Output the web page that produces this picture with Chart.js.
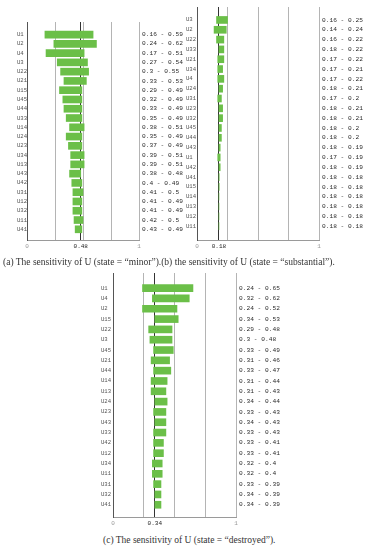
<!DOCTYPE html>
<html><head><meta charset="utf-8">
<script src="https://cdn.jsdelivr.net/npm/chart.js@4"></script>
<style>
html,body{margin:0;padding:0;background:#fff;width:368px;height:550px;overflow:hidden;}
canvas{position:absolute;}
.cap{position:absolute;font-family:"Liberation Serif","DejaVu Serif",serif;font-size:9.5px;line-height:11px;color:#333;white-space:nowrap;}
</style></head><body>
<canvas id="ca" width="184" height="252" style="left:0;top:0;width:184px;height:252px"></canvas>
<canvas id="cb" width="184" height="252" style="left:184px;top:0;width:184px;height:252px"></canvas>
<canvas id="cc" width="190" height="265" style="left:90px;top:265px;width:190px;height:265px"></canvas>
<div class="cap" style="left:3px;top:257px">(a) The sensitivity of U (state = “minor”).(b) the sensitivity of U (state = “substantial”).</div>
<div class="cap" style="left:103px;top:535px">(c) The sensitivity of U (state = “destroyed”).</div>
<script>
// (a) state = "minor"
const catsA = ['U1','U2','U4','U3','U22','U21','U15','U45','U44','U33','U14','U24','U23','U34','U13','U43','U42','U31','U12','U32','U11','U41'];
const lowA  = [0.16,0.24,0.17,0.27,0.3,0.33,0.29,0.32,0.33,0.35,0.38,0.35,0.37,0.39,0.39,0.38,0.4,0.41,0.41,0.41,0.42,0.43];
const highA = [0.59,0.62,0.51,0.54,0.55,0.53,0.49,0.49,0.49,0.49,0.51,0.49,0.49,0.51,0.51,0.48,0.49,0.5,0.49,0.49,0.5,0.49];
const refA = 0.48;

// (b) state = "substantial"
const catsB = ['U3','U2','U22','U33','U21','U34','U4','U24','U31','U23','U32','U45','U44','U43','U1','U42','U41','U15','U14','U13','U12','U11'];
const lowB  = [0.16,0.14,0.16,0.18,0.17,0.17,0.17,0.18,0.17,0.18,0.18,0.18,0.18,0.18,0.17,0.18,0.18,0.18,0.18,0.18,0.18,0.18];
const highB = [0.25,0.24,0.22,0.22,0.22,0.21,0.22,0.21,0.2,0.21,0.21,0.2,0.2,0.19,0.19,0.19,0.182,0.182,0.18,0.18,0.18,0.18];
const refB = 0.18;

// (c) state = "destroyed"
const catsC = ['U1','U4','U2','U15','U22','U3','U45','U21','U44','U14','U13','U24','U23','U43','U33','U42','U12','U34','U11','U31','U32','U41'];
const lowC  = [0.24,0.32,0.24,0.34,0.29,0.3,0.33,0.31,0.33,0.31,0.31,0.34,0.33,0.34,0.33,0.33,0.33,0.32,0.32,0.33,0.34,0.34];
const highC = [0.65,0.62,0.52,0.53,0.48,0.48,0.49,0.46,0.47,0.44,0.43,0.44,0.43,0.43,0.43,0.41,0.41,0.4,0.4,0.39,0.39,0.39];
const refC = 0.34;

const xTickBase = [0, 0.25, 0.5, 0.75, 1];

const fmt = v => String(Math.round(v * 100) / 100);

const valueLabels = {
  id: 'valueLabels',
  afterDraw(chart, args, opts) {
    const {ctx, chartArea, scales: {y}} = chart;
    ctx.save();
    ctx.font = '6.2px "Liberation Mono", "DejaVu Sans Mono", monospace';
    ctx.fillStyle = '#2a2a2a';
    ctx.textBaseline = 'middle';
    ctx.textAlign = 'left';
    opts.texts.forEach((t, i) => ctx.fillText(t, chartArea.right + 3, y.getPixelForValue(i)));
    ctx.restore();
  }
};

function build(id, cats, lo, hi, ref, g) {
  new Chart(document.getElementById(id), {
    type: 'bar',
    data: {
      labels: cats.map((_, i) => i),
      datasets: [{
        data: lo.map((v, i) => [v, hi[i]]),
        backgroundColor: '#6bbf48',
        borderWidth: 0,
        barThickness: 7
      }]
    },
    options: {
      indexAxis: 'y',
      responsive: false,
      animation: false,
      plugins: {
        legend: {display: false},
        tooltip: {enabled: false},
        valueLabels: {texts: lo.map((v, i) => fmt(v) + ' - ' + fmt(hi[i]))}
      },
      layout: {padding: {left: g.pl, right: g.pr, top: g.pt, bottom: g.pb}},
      scales: {
        x: {
          type: 'linear', min: 0, max: 1, z: 1,
          afterBuildTicks: s => { s.ticks = xTickBase.concat([ref]).sort((a, b) => a - b).map(v => ({value: v})); },
          afterFit: s => { s.height = 10; },
          ticks: {
            autoSkip: false, maxRotation: 0, minRotation: 0, padding: 3,
            font: {family: '"Liberation Mono", "DejaVu Sans Mono", monospace', size: 6},
            color: c => (c.tick && c.tick.value === ref) ? '#222' : '#999',
            callback: v => (v === 0 || v === 1) ? String(v) : (v === ref ? ref.toFixed(2) : '')
          },
          grid: {
            drawTicks: false, lineWidth: 1,
            color: c => {
              const v = c.tick ? c.tick.value : null;
              if (v === ref) return '#333';
              if (v === 0) return 'rgba(0,0,0,0)';
              return '#b4b4b4';
            }
          },
          border: {color: '#9a9a9a', width: 1}
        },
        y: {
          type: 'linear', reverse: true, min: g.ymin, max: g.ymax,
          afterBuildTicks: s => { s.ticks = cats.map((_, i) => ({value: i})); },
          afterFit: s => { s.width = g.yw; },
          ticks: {
            autoSkip: false, crossAlign: 'far', padding: 1,
            font: {family: '"Liberation Mono", "DejaVu Sans Mono", monospace', size: 5.6},
            color: '#555',
            callback: v => cats[v]
          },
          grid: {display: false},
          border: {color: '#555', width: 1}
        }
      }
    },
    plugins: [valueLabels]
  });
}

build('ca', catsA, lowA, highA, refA, {pl: 17, yw: 10, pr: 45, pt: 22, pb: 2, ymin: -0.82, ymax: 21.62});
build('cb', catsB, lowB, highB, refB, {pl: 2, yw: 11, pr: 49, pt: 7, pb: 2, ymin: -0.78, ymax: 21.87});
build('cc', catsC, lowC, highC, refC, {pl: 11, yw: 12, pr: 44, pt: 8, pb: 3, ymin: -0.93, ymax: 21.65});
</script>
</body></html>
